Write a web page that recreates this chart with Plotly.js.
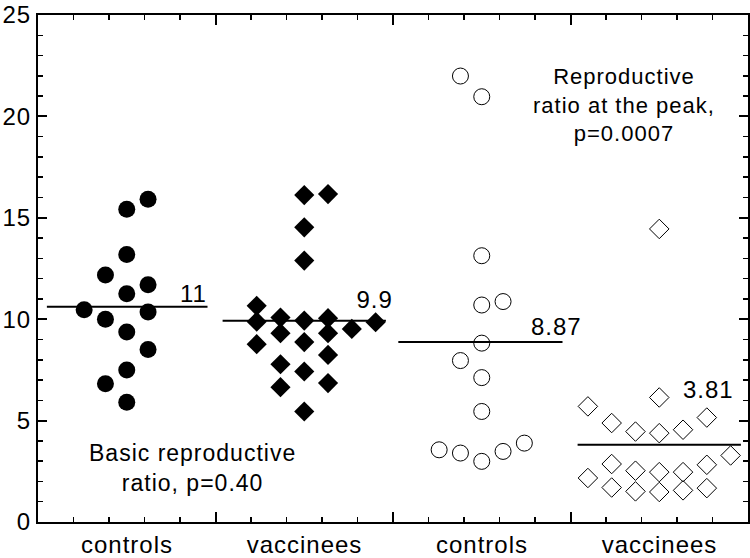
<!DOCTYPE html>
<html>
<head>
<meta charset="utf-8">
<script src="https://cdn.plot.ly/plotly-3.0.1.min.js"></script>
<style>
  html, body { margin: 0; padding: 0; background: #fff; }
  #chart { width: 750px; height: 558px; }
  .main-svg text { letter-spacing: 1px; }
</style>
</head>
<body>
<div id="chart"></div>
<script>
// Category labels along the x axis
const categories = ["controls", "vaccinees", "controls", "vaccinees"];

// Group 1: basic reproductive ratio, controls (filled circles)
const basicControlsValues = [15.91, 15.42, 13.19, 12.18, 11.70, 11.26, 10.47, 10.35, 10.00, 9.37, 8.51, 7.50, 6.82, 5.91];
const basicControlsColumn = [1, 0, 0, -1, 1, 0, -2, 1, -1, 0, 1, 0, -1, 0];

// Group 2: basic reproductive ratio, vaccinees (filled diamonds)
const basicVaccineesValues = [16.12, 16.17, 14.53, 12.89, 10.66, 9.88, 10.08, 9.93, 10.05, 9.52, 9.85, 8.77, 9.31, 8.87, 9.31, 7.78, 7.42, 8.24, 6.65, 6.85, 5.45];
const basicVaccineesColumn = [0, 1, 0, 0, -2, -2, -1, 0, 1, 2, 3, -2, -1, 0, 1, -1, 0, 1, -1, 1, 0];

// Group 3: reproductive ratio at the peak, controls (open circles)
const peakControlsValues = [21.99, 20.97, 13.13, 10.70, 10.87, 8.82, 7.96, 7.12, 5.45, 3.56, 3.40, 2.99, 3.48, 3.89];
const peakControlsColumn = [-1, 0, 0, 0, 1, 0, -1, 0, 0, -2, -1, 0, 1, 2];

// Group 4: reproductive ratio at the peak, vaccinees (open diamonds)
const peakVaccineesValues = [14.45, 5.70, 4.88, 4.46, 4.38, 4.55, 5.15, 6.14, 3.28, 2.17, 2.86, 1.70, 2.53, 1.51, 2.46, 1.48, 2.46, 1.56, 2.82, 1.67];
const peakVaccineesColumn = [0, -3, -2, -1, 0, 1, 2, 0, 3, -3, -2, -2, -1, -1, 0, 0, 1, 1, 2, 2];

// Medians (line level) and printed median labels
const medianValues = [10.62, 9.92, 8.87, 3.81];
const medianLabels = ["11", "9.9", "8.87", "3.81"];

// Panel notes
const noteBasic = "Basic reproductive<br>ratio, p=0.40";
const notePeak = "Reproductive<br>ratio at the peak,<br>p=0.0007";

const FONT = "Liberation Sans, Arial, Helvetica, sans-serif";

function xs(groupIndex, cols, spacing) {
  return cols.map(c => groupIndex + 0.5 + c * spacing);
}

const traces = [
  {
    x: xs(0, basicControlsColumn, 0.12), y: basicControlsValues,
    mode: "markers", type: "scatter",
    marker: { symbol: "circle", size: 17, color: "#000" }
  },
  {
    x: xs(1, basicVaccineesColumn, 0.134), y: basicVaccineesValues,
    mode: "markers", type: "scatter",
    marker: { symbol: "diamond", size: 15.5, color: "#000" }
  },
  {
    x: xs(2, peakControlsColumn, 0.12), y: peakControlsValues,
    mode: "markers", type: "scatter",
    marker: { symbol: "circle-open", size: 16, color: "#000", line: { width: 1, color: "#000" } }
  },
  {
    x: xs(3, peakVaccineesColumn, 0.134), y: peakVaccineesValues,
    mode: "markers", type: "scatter",
    marker: { symbol: "diamond-open", size: 15, color: "#000", line: { width: 1, color: "#000" } }
  }
];

const lineStart = [0.05, 1.04, 2.03, 3.04];
const lineEnd = [0.955, 1.96, 2.955, 3.96];
medianValues.forEach((m, i) => {
  traces.push({
    x: [lineStart[i], lineEnd[i]], y: [m, m],
    mode: "lines", type: "scatter",
    line: { color: "#000", width: 2 }, hoverinfo: "skip"
  });
});

const labelRight = [0.96, 2.0, 3.065, 3.92];
const labelMid = [11.28, 10.95, 9.64, 6.52];
const annotations = medianLabels.map((t, i) => ({
  x: labelRight[i], y: labelMid[i], xref: "x", yref: "y",
  text: t, showarrow: false, xanchor: "right", yanchor: "middle",
  font: { family: FONT, size: 24, color: "#000" }
}));
annotations.push({
  x: 0.87, y: 2.67, xref: "x", yref: "y", text: noteBasic, showarrow: false,
  xanchor: "center", yanchor: "middle", align: "center",
  font: { family: FONT, size: 23, color: "#000" }
});
annotations.push({
  x: 3.30, y: 20.56, xref: "x", yref: "y", text: notePeak, showarrow: false,
  xanchor: "center", yanchor: "middle", align: "center",
  font: { family: FONT, size: 22, color: "#000" }
});

const layout = {
  width: 750, height: 558,
  margin: { l: 38, r: 2, t: 15, b: 36, pad: 0 },
  paper_bgcolor: "#fff", plot_bgcolor: "#fff",
  showlegend: false,
  font: { family: FONT, size: 24, color: "#000" },
  xaxis: {
    range: [0, 4], showgrid: false, zeroline: false,
    showline: true, linecolor: "#000", linewidth: 2, mirror: "ticks",
    tickmode: "array", tickvals: [0, 1, 2, 3], ticktext: categories,
    ticks: "inside", ticklen: 10, tickwidth: 2, tickcolor: "#000",
    ticklabelshift: 89,
    minor: { dtick: 0.2, tick0: 0, ticks: "inside", ticklen: 5, tickwidth: 1.5, tickcolor: "#000", showgrid: false },
    tickfont: { family: FONT, size: 24, color: "#000" },
    fixedrange: true
  },
  yaxis: {
    range: [0, 25], showgrid: false, zeroline: false,
    showline: true, linecolor: "#000", linewidth: 2, mirror: "ticks",
    tickmode: "linear", tick0: 0, dtick: 5,
    ticks: "inside", ticklen: 9, tickwidth: 2, tickcolor: "#000",
    minor: { dtick: 1, tick0: 0, ticks: "inside", ticklen: 5, tickwidth: 1.5, tickcolor: "#000", showgrid: false },
    tickfont: { family: FONT, size: 24, color: "#000" },
    fixedrange: true
  },
  annotations: annotations
};

Plotly.newPlot("chart", traces, layout, { displayModeBar: false, staticPlot: true });
</script>
</body>
</html>
